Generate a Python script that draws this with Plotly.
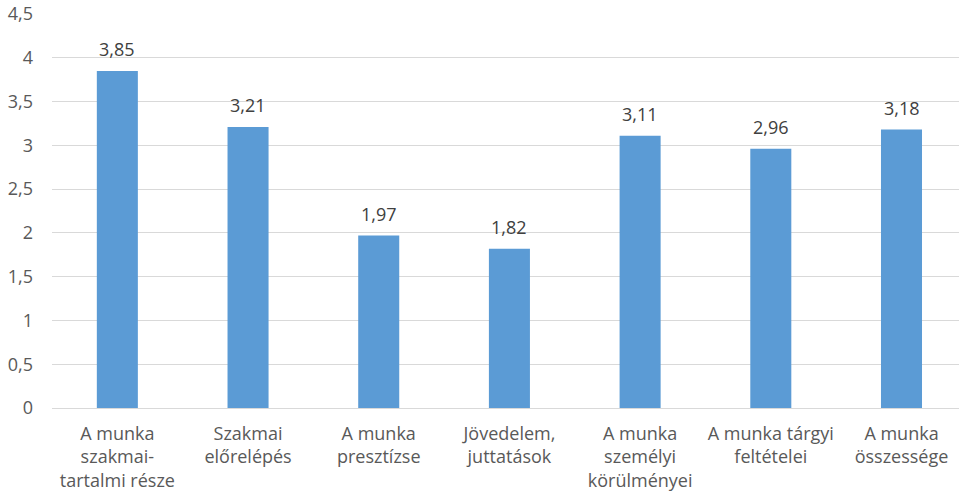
import plotly.graph_objects as go

categories = [
    "A munka<br>szakmai-<br>tartalmi része",
    "Szakmai<br>előrelépés",
    "A munka<br>presztízse",
    "Jövedelem,<br>juttatások",
    "A munka<br>személyi<br>körülményei",
    "A munka tárgyi<br>feltételei",
    "A munka<br>összessége",
]
values = [3.85, 3.21, 1.97, 1.82, 3.11, 2.96, 3.18]
y_ticks = [0, 0.5, 1, 1.5, 2, 2.5, 3, 3.5, 4, 4.5]

FONT = "Open Sans"
xs = list(range(len(categories)))
fig = go.Figure(
    go.Bar(
        x=xs,
        y=values,
        marker=dict(color="#5B9BD5", line=dict(width=0)),
        width=0.314,
        hoverinfo="y",
    )
)

for x, v in zip(xs, values):
    fig.add_annotation(
        x=x, y=v, xref="x", yref="y",
        text=f"{v:.2f}".replace(".", ","),
        showarrow=False,
        yanchor="middle",
        yshift=22,
        font=dict(family=FONT, size=18, color="#404040"),
    )

fig.update_layout(
    width=959,
    height=497,
    margin=dict(l=52, r=0, t=14, b=89),
    paper_bgcolor="white",
    plot_bgcolor="white",
    separators=", ",
    showlegend=False,
    font=dict(family=FONT, size=18, color="#595959"),
    xaxis=dict(
        tickmode="array",
        tickvals=xs,
        ticktext=categories,
        range=[-0.5, 6.44],
        showgrid=False,
        showline=False,
        zeroline=False,
        ticks="",
        ticklabelstandoff=13,
        tickfont=dict(family=FONT, size=18, color="#595959"),
    ),
    yaxis=dict(
        range=[0, 4.5],
        tickmode="array",
        tickvals=y_ticks,
        showgrid=True,
        gridcolor="#D9D9D9",
        gridwidth=1,
        zeroline=True,
        zerolinecolor="#D9D9D9",
        zerolinewidth=1,
        showline=False,
        ticks="",
        ticklabelstandoff=18,
        tickfont=dict(family=FONT, size=18, color="#595959"),
    ),
)

fig.write_html("out.html")
